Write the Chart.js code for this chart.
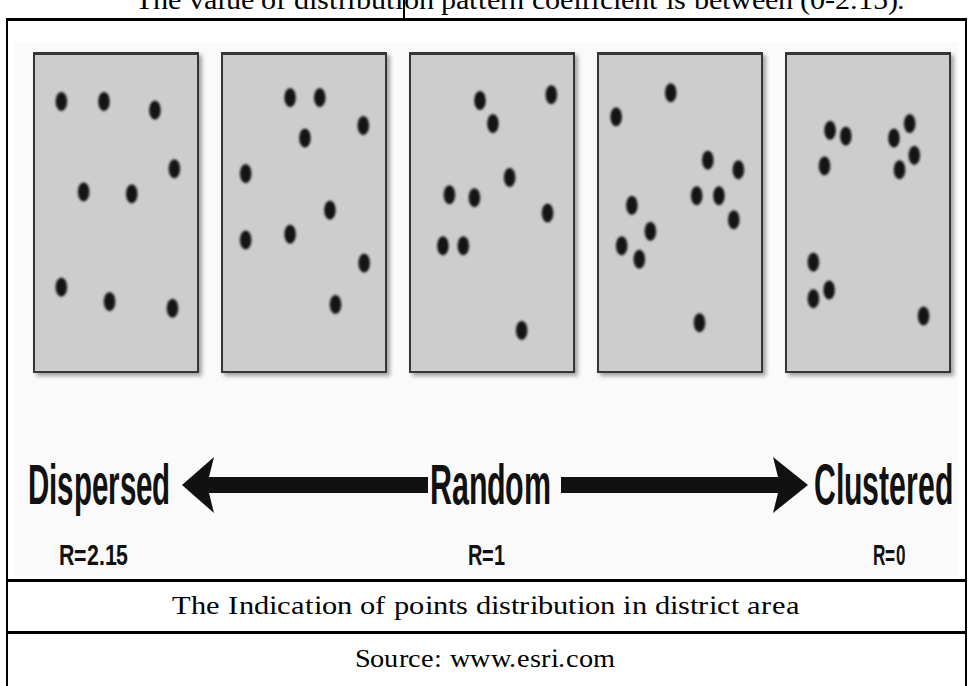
<!DOCTYPE html>
<html>
<head>
<meta charset="utf-8">
<script src="https://cdn.jsdelivr.net/npm/chart.js@4.4.0/dist/chart.umd.min.js"></script>
<style>
@font-face{font-family:"LSerif";src:local("Liberation Serif"),local("LiberationSerif"),local("LiberationSerif-Regular"),local("Liberation Serif Regular");}
@font-face{font-family:"LSans";font-weight:bold;src:local("Liberation Sans Bold"),local("LiberationSans-Bold"),local("Liberation Sans");}
body{margin:0;background:#fff;}
#page{position:relative;width:970px;height:686px;overflow:hidden;font-family:"LSerif","Liberation Serif","Times New Roman",serif;color:#000;}
.abs{position:absolute;}
.line{position:absolute;background:#000;}
.panel{position:absolute;top:52px;width:166px;height:321px;box-sizing:border-box;border:2px solid #363636;border-top-width:3px;background:#cdcdcd;box-shadow:3px 3px 4px rgba(0,0,0,.35);}
.panel canvas{display:block;}
.big{font-family:"LSans","Liberation Sans",Arial,sans-serif;font-weight:bold;color:#111;}
.txt{white-space:nowrap;line-height:1;transform-origin:0 0;}
</style>
</head>
<body>
<div id="page">
  <div class="abs" style="left:14px;top:42px;width:944px;height:534px;background:#fafafa;"></div>
  <svg class="abs" style="left:0;top:0" width="970" height="686">
    <path d="M182,485 L214,457 L209,477 L428,477 L428,493 L209,493 L214,513 Z" fill="#111"/>
    <path d="M808,485 L773,457 L778,477 L561,477 L561,493 L778,493 L773,513 Z" fill="#111"/>
  </svg>
  <div class="line" style="left:6px;top:18px;width:961px;height:3px;"></div>
  <div class="line" style="left:6px;top:18px;width:2px;height:668px;"></div>
  <div class="line" style="left:965px;top:18px;width:2px;height:668px;"></div>
  <div class="line" style="left:6px;top:579px;width:961px;height:3px;"></div>
  <div class="line" style="left:6px;top:631px;width:961px;height:3px;"></div>
  <div class="line" style="left:403px;top:0;width:2px;height:18px;"></div>
</div>
<script>
// dot positions inside each panel (x from left edge, y from top edge)
const dispersedX = [24, 70, 125, 146, 48, 100, 24, 76, 144];
const dispersedY = [45, 45, 54, 115, 139, 141, 238, 253, 260];
const semiDispersedX = [68, 100, 147, 84, 20, 111, 20, 68, 148, 117];
const semiDispersedY = [41, 41, 70, 83, 120, 158, 189, 183, 213, 256];
const randomX = [70, 147, 84, 102, 37, 64, 143, 30, 52, 115];
const randomY = [44, 38, 68, 124, 142, 145, 161, 195, 195, 283];
const semiClusteredX = [73, 14, 113, 146, 101, 125, 141, 31, 51, 20, 39, 104];
const semiClusteredY = [36, 61, 106, 116, 143, 143, 168, 153, 180, 195, 209, 275];
const clusteredX = [42, 59, 128, 111, 133, 36, 117, 24, 41, 24, 143];
const clusteredY = [75, 81, 68, 83, 101, 112, 116, 212, 241, 250, 268];

const patternLabels = ['Dispersed', 'Random', 'Clustered'];
const rLabels = ['R=2.15', 'R=1', 'R=0'];
const titleText = 'The value of distribution pattern coefficient is between (0-2.15).';
const captionText = 'The Indication of points distribution in district area';
const sourceText = 'Source: www.esri.com';

const page = document.getElementById('page');

// blurred black ellipse used as point style
const dot = document.createElement('canvas');
dot.width = 18; dot.height = 26;
const g = dot.getContext('2d');
g.filter = 'blur(0.8px)';
g.fillStyle = '#141414';
g.beginPath();
g.ellipse(9, 13, 5.8, 9.4, 0, 0, Math.PI * 2);
g.fill();

const panels = [
  [dispersedX, dispersedY],
  [semiDispersedX, semiDispersedY],
  [randomX, randomY],
  [semiClusteredX, semiClusteredY],
  [clusteredX, clusteredY]
];
const panelLeft = [33, 221, 409, 597, 785];

panels.forEach((p, i) => {
  const box = document.createElement('div');
  box.className = 'panel';
  box.style.left = panelLeft[i] + 'px';
  const cv = document.createElement('canvas');
  cv.width = 162; cv.height = 316;
  box.appendChild(cv);
  page.appendChild(box);
  new Chart(cv.getContext('2d'), {
    type: 'scatter',
    data: {
      datasets: [{
        data: p[0].map((x, k) => ({x: x, y: p[1][k]})),
        pointStyle: dot,
        pointRadius: 5,
        clip: false
      }]
    },
    options: {
      responsive: false,
      animation: false,
      layout: {padding: 0},
      plugins: {legend: {display: false}, tooltip: {enabled: false}},
      scales: {
        x: {type: 'linear', min: 2, max: 164, display: false},
        y: {type: 'linear', min: 3, max: 319, reverse: true, display: false}
      }
    }
  });
});

function place(text, cls, left, right, baseline, size) {
  const el = document.createElement('div');
  el.className = 'abs txt ' + cls;
  el.textContent = text;
  el.style.fontSize = size + 'px';
  el.style.left = left + 'px';
  el.style.top = (baseline - 0.85 * size) + 'px';
  page.appendChild(el);
  const w = el.getBoundingClientRect().width;
  el.style.transform = 'scaleX(' + ((right - left) / w) + ')';
}

function layoutText() {
  place(titleText, '', 135, 905, 10, 28);
  place(patternLabels[0], 'big', 28, 170, 505, 56);
  place(patternLabels[1], 'big', 430, 551, 505, 56);
  place(patternLabels[2], 'big', 814, 953, 505, 56);
  place(rLabels[0], 'big', 59, 128, 566, 29);
  place(rLabels[1], 'big', 468, 505, 566, 29);
  place(rLabels[2], 'big', 873, 905, 566, 29);
  place(captionText, '', 172, 800, 615, 26);
  place(sourceText, '', 355, 615, 668, 26);
}
document.fonts.load('26px LSerif').then(() => document.fonts.load('bold 56px LSans')).then(layoutText, layoutText);
</script>
</body>
</html>
